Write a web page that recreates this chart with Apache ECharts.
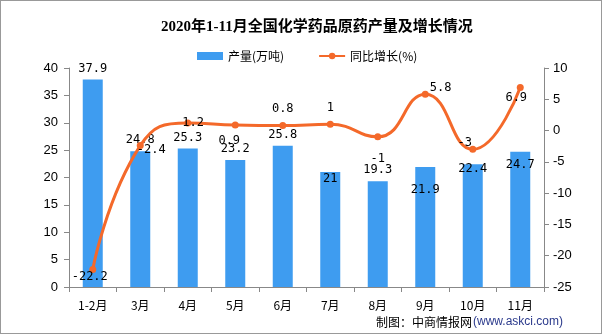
<!DOCTYPE html>
<html><head><meta charset="utf-8">
<script src="https://cdn.jsdelivr.net/npm/echarts@6/dist/echarts.min.js"></script>
<style>html,body{margin:0;padding:0;background:#fff}#c{width:602px;height:334px;box-sizing:border-box;border:1px solid #999}</style>
</head><body><div id="c"></div>
<script>
const categories = ['1-2月','3月','4月','5月','6月','7月','8月','9月','10月','11月'];
const output = [37.9, 24.8, 25.3, 23.2, 25.8, 21, 19.3, 21.9, 22.4, 24.7];
const growth = [-22.2, -2.4, 1.2, 0.9, 0.8, 1, -1, 5.8, -3, 6.9];
const leftTicks = {min: 0, max: 40, interval: 5};
const rightTicks = {min: -25, max: 10, interval: 5};

const barLabelPos = ['top','top','top','top','top','insideTop','top','insideTop','insideTop','insideTop'];
const barLabelOff = [[0,0],[0,0],[0,0],[0,0],[0,0],[0,-4],[0,0],[0,12],[0,-6],[0,2]];
const lineLabelPos = ['bottom','right','right','bottom','top','top','bottom','right','top','bottom'];
const lineLabelOff = [[-3,-7],[-12,4],[-14,0],[-6,1],[0,-2],[0,-2],[0,8],[-4,-6],[-8,8],[-4,-4]];

const chart = echarts.init(document.getElementById('c'));
const lab = {fontFamily:'"DejaVu Sans Mono", monospace', fontSize: 12, color:'#000'};
chart.setOption({
  animation:false,
  title:{text:'2020年1-11月全国化学药品原药产量及增长情况', left:155, top:14,
    textStyle:{fontFamily:'"Liberation Serif","Noto Sans CJK SC",serif', fontWeight:'bold', fontSize:15, color:'#000'}},
  legend:{top:44, left:191, itemGap:34, itemWidth:26, itemHeight:8,
    textStyle:{fontFamily:'"Noto Sans CJK SC",sans-serif', fontSize:12, color:'#000'},
    data:[{name:'产量(万吨)', icon:'rect'},{name:'同比增长(%)'}]},
  grid:{left:68, right:57, top:67, bottom:46},
  xAxis:{type:'category', data:categories,
    axisLine:{lineStyle:{color:'#888'}},
    axisTick:{show:true, alignWithLabel:false, length:5, lineStyle:{color:'#888'}},
    axisLabel:{color:'#000', fontSize:12, fontFamily:'"Noto Sans CJK SC",sans-serif', margin:12}},
  yAxis:[
    {type:'value', min:leftTicks.min, max:leftTicks.max, interval:leftTicks.interval,
     axisLine:{show:true, lineStyle:{color:'#888'}}, axisTick:{show:true, length:5, lineStyle:{color:'#888'}},
     splitLine:{show:false}, axisLabel:{color:'#000', fontSize:13, fontFamily:'"Liberation Sans",sans-serif', margin:11}},
    {type:'value', min:rightTicks.min, max:rightTicks.max, interval:rightTicks.interval, position:'right',
     axisLine:{show:true, lineStyle:{color:'#888'}}, axisTick:{show:true, length:5, lineStyle:{color:'#888'}},
     splitLine:{show:false}, axisLabel:{color:'#000', fontSize:13, fontFamily:'"Liberation Sans",sans-serif', margin:9}}
  ],
  series:[
    {name:'产量(万吨)', type:'bar', barWidth:20, yAxisIndex:0, itemStyle:{color:'#3E9CF0'},
     data: output.map((v,i)=>({value:v, label:{show:true, position:barLabelPos[i], offset:barLabelOff[i], ...lab}}))},
    {name:'同比增长(%)', type:'line', yAxisIndex:1, smooth:0.5, symbol:'circle', symbolSize:7,
     lineStyle:{color:'#F4692A', width:3}, itemStyle:{color:'#F4692A'},
     data: growth.map((v,i)=>({value:v, label:{show:true, position:lineLabelPos[i], offset:lineLabelOff[i], ...lab}}))}
  ],
  graphic:[
    {type:'text', left:375, top:315, style:{text:'制图：中商情报网', font:'12px "Noto Sans CJK SC"', fill:'#000'}},
    {type:'text', left:472, top:315, style:{text:'(www.askci.com)', font:'12px "Liberation Sans"', fill:'#2B3A8C'}}
  ]
});
</script></body></html>
